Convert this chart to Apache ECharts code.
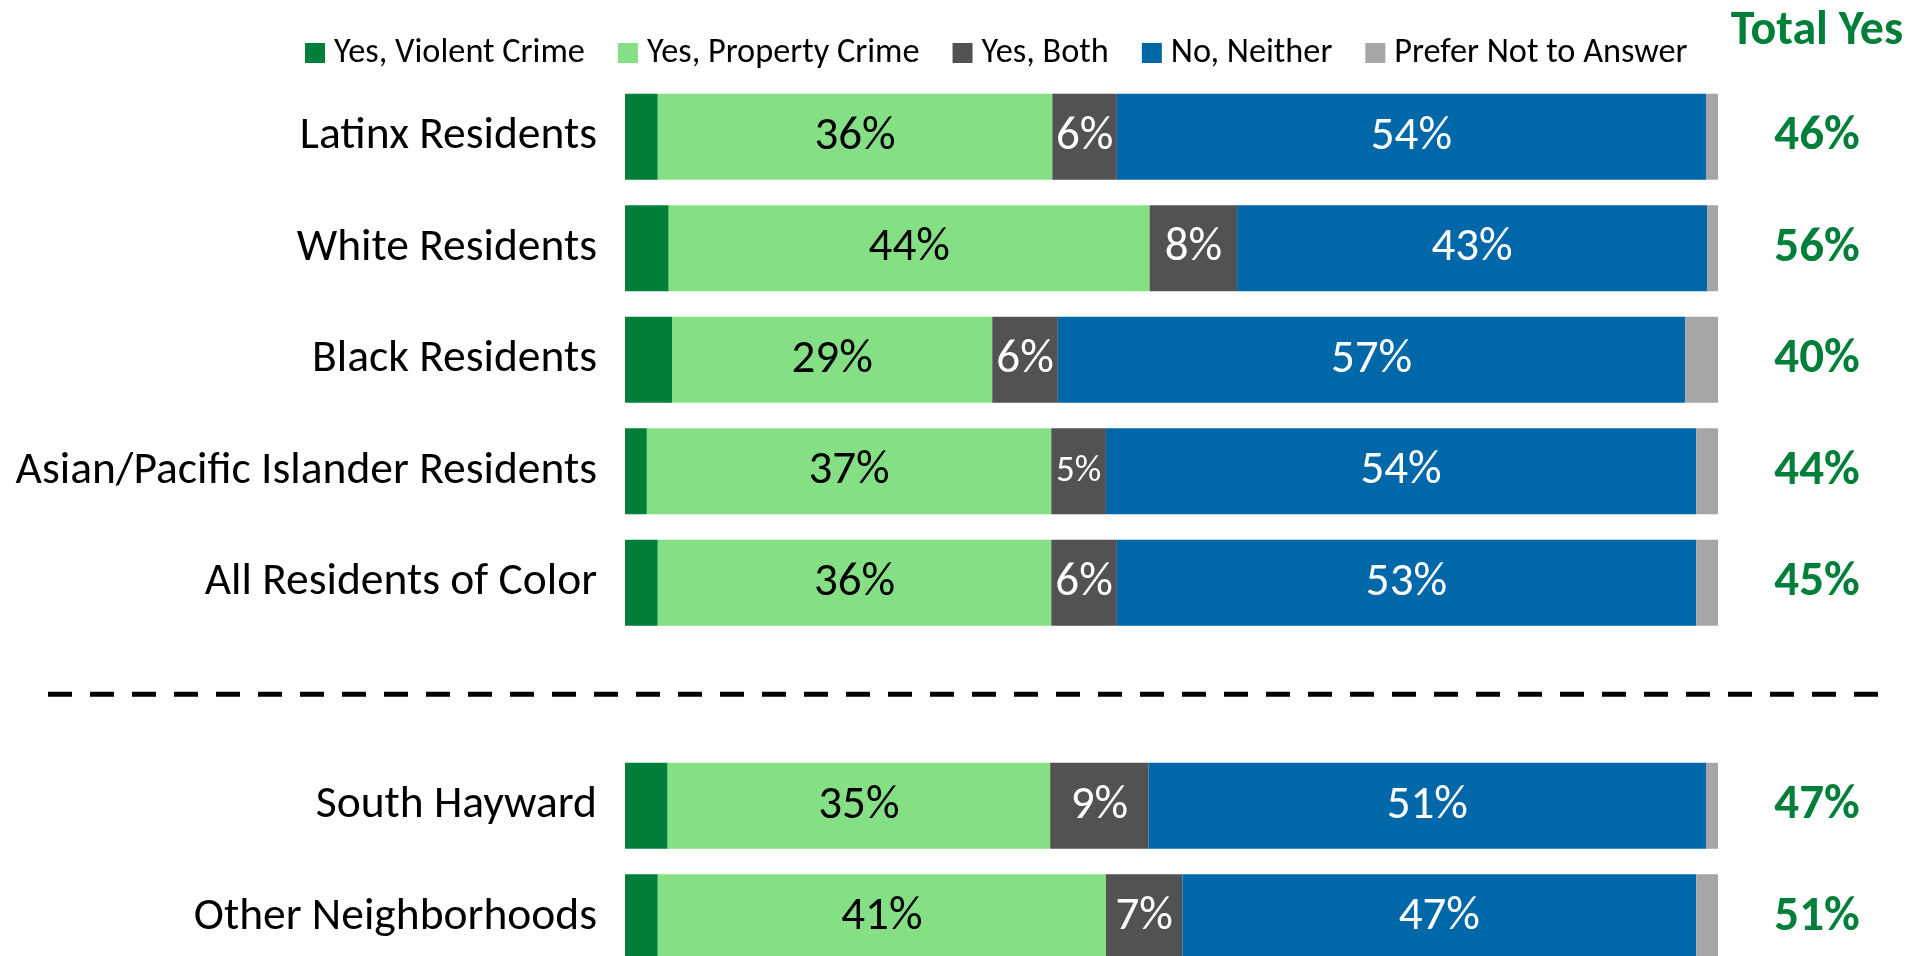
<!DOCTYPE html>
<html>
<head>
<meta charset="utf-8">
<script src="https://cdn.jsdelivr.net/npm/echarts@6/dist/echarts.min.js"></script>
<style>
html,body{margin:0;padding:0;background:#fff;overflow:hidden;}
#chart{width:1921px;height:1000px;}
</style>
</head>
<body>
<div id="chart"></div>
<script>
// ---- data (top to bottom; '' is the separator slot) ----
var categories = ['Latinx Residents', 'White Residents', 'Black Residents', 'Asian/Pacific Islander Residents', 'All Residents of Color', '', 'South Hayward', 'Other Neighborhoods'];
var seriesNames = ['Yes, Violent Crime', 'Yes, Property Crime', 'Yes, Both', 'No, Neither', 'Prefer Not to Answer'];
var violent  = [3.0, 4.0, 4.3, 2.0, 3.0, null, 3.9, 3.0];
var property = [36.1, 44.0, 29.3, 37.0, 36.0, null, 35.0, 41.0];
var both     = [5.9, 8.0, 6.0, 5.0, 6.0, null, 9.0, 7.0];
var neither  = [53.9, 43.0, 57.4, 54.0, 53.0, null, 51.0, 47.0];
var prefer   = [1.1, 1.0, 3.0, 2.0, 2.0, null, 1.1, 2.0];
var totalYes = [46, 56, 40, 44, 45, null, 47, 51];
var totalHeader = 'Total Yes';
var separatorIndex = 5;

var colors = ['#007F3B', '#85E085', '#525252', '#0068A9', '#A6A6A6'];
var FONT = 'Carlito, "Liberation Sans Narrow", "Liberation Sans", sans-serif';
var GREEN = '#007F3B';

function inside(color) {
  return {
    show: true, position: 'inside', color: color, fontFamily: FONT, fontSize: 47,
    padding: [6, 0, 0, 0],
    formatter: function (p) { return p.value == null ? '' : Math.round(p.value) + '%'; }
  };
}
function withSmall(arr) {
  return arr.map(function (v) {
    return v != null && v < 5.5 ? { value: v, label: { fontSize: 37 } } : v;
  });
}

var chart = echarts.init(document.getElementById('chart'));
var option = {
  animation: false,
  color: colors,
  legend: {
    left: 300, top: 31,
    icon: 'rect', itemWidth: 20, itemHeight: 20, itemGap: 33,
    textStyle: { fontFamily: FONT, fontSize: 34.3, color: '#000', padding: [0, 0, 0, 4] },
    data: seriesNames
  },
  grid: { left: 625, width: 1093, top: 81, height: 892, containLabel: false },
  xAxis: { type: 'value', min: 0, max: 100, show: false },
  yAxis: {
    type: 'category', data: categories, inverse: true,
    axisLine: { show: false }, axisTick: { show: false }, splitLine: { show: false },
    axisLabel: { margin: 28, color: '#000', fontFamily: FONT, fontSize: 45.5, padding: [5, 0, 0, 0] }
  },
  series: [
    { name: seriesNames[0], type: 'bar', stack: 'a', barWidth: 86, data: violent },
    { name: seriesNames[1], type: 'bar', stack: 'a', barWidth: 86, data: withSmall(property), label: inside('#000') },
    { name: seriesNames[2], type: 'bar', stack: 'a', barWidth: 86, data: withSmall(both), label: inside('#fff') },
    { name: seriesNames[3], type: 'bar', stack: 'a', barWidth: 86, data: withSmall(neither), label: inside('#fff') },
    { name: seriesNames[4], type: 'bar', stack: 'a', barWidth: 86, data: prefer,
      label: {
        show: true, position: 'right', distance: 99, align: 'center',
        color: GREEN, fontFamily: FONT, fontWeight: 'bold', fontSize: 49,
        formatter: function (p) { return totalYes[p.dataIndex] == null ? '' : totalYes[p.dataIndex] + '%'; }
      }
    }
  ]
};
chart.setOption(option);

var sepY = chart.convertToPixel({ yAxisIndex: 0 }, separatorIndex);
var headX = chart.convertToPixel({ xAxisIndex: 0 }, 100) + 99;
chart.setOption({
  graphic: [
    { type: 'line', silent: true,
      shape: { x1: 48, y1: sepY, x2: 1879, y2: sepY },
      style: { stroke: '#000', lineWidth: 5, lineDash: [24, 18] } },
    { type: 'text', silent: true, x: headX, y: 32,
      style: { text: totalHeader, fill: GREEN, font: 'bold 48px ' + FONT, align: 'center', verticalAlign: 'middle' } }
  ]
});
</script>
</body>
</html>
